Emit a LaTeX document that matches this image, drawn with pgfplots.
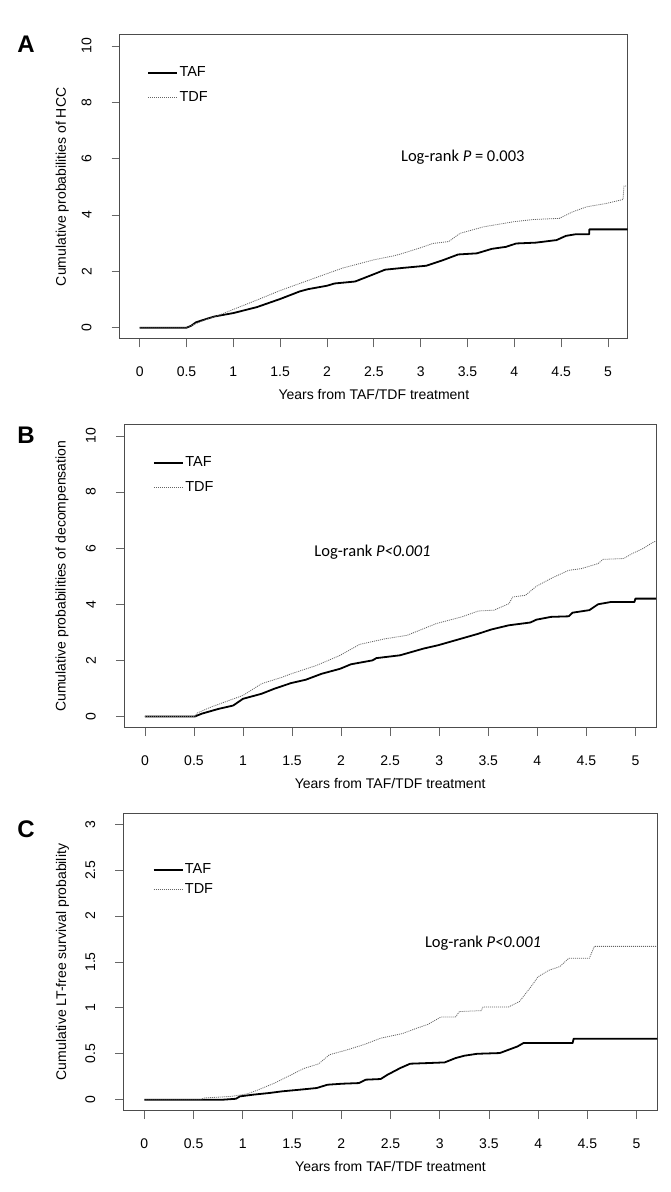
\documentclass[border=0pt]{standalone}
\usepackage{fontspec}
\setmainfont{Liberation Sans}
\newfontfamily\calibri{Carlito}
\usepackage{pgfplots}
\pgfplotsset{compat=1.18}

\newcommand\ticksize{\fontsize{14}{16}\selectfont}
\newcommand\labsize{\fontsize{14}{16}\selectfont}
\newcommand\legsize{\fontsize{14.5}{17}\selectfont}
\newcommand\pfont{\calibri\fontsize{16.5}{20}\selectfont}

\definecolor{tdfgray}{RGB}{100,100,100}

\pgfplotsset{
  rplot/.style={
    scale only axis,
    xmin=-0.21, xmax=5.21,
    xtick={0,0.5,1,1.5,2,2.5,3,3.5,4,4.5,5},
    xticklabels={0,0.5,1,1.5,2,2.5,3,3.5,4,4.5,5},
    tick align=outside,
    xtick pos=left, ytick pos=left,
    major tick length=8.5pt,
    tick style={draw=black!60, line width=0.8pt},
    axis line style={draw=black!70, line width=1pt},
    tick label style={font=\ticksize, inner sep=0pt},
    xticklabel style={anchor=north},
    yticklabel style={rotate=90, anchor=south},
    xticklabel shift=19.3pt,
    yticklabel shift=19.8pt,
    label style={font=\labsize},
    xlabel={Years from TAF/TDF treatment},
    xlabel style={at={([yshift=-55.5pt]axis description cs:0.5,0)}, anchor=center},
    legend style={draw=none, fill=none, font=\legsize, inner sep=0pt,
      nodes={inner sep=1.5pt}, anchor=west},
    legend cell align=left,
    legend image code/.code={\draw[#1] (0pt,0pt) -- (29pt,0pt);},
  },
  taf/.style={black, line width=1.8pt, line join=round},
  tdf/.style={tdfgray, line width=0.8pt, dash pattern=on 1pt off 1pt},
}

\begin{document}
\begin{tikzpicture}
\useasboundingbox (0,0) rectangle (671pt,1192pt);

% ---------------- Panel A ----------------
\begin{axis}[rplot,
  at={(120pt,853pt)}, anchor=south west,
  width=507.7pt, height=304.3pt,
  ymin=-0.4, ymax=10.4,
  ytick={0,2,4,6,8,10}, yticklabels={0,2,4,6,8,10},
  ylabel={Cumulative probabilities of HCC},
  ylabel style={at={([xshift=-57.7pt]axis description cs:0,0.5)}, anchor=center},
  legend style={at={(axis description cs:0.0532,0.834)}, row sep=10.6pt},
]
\addplot[taf] coordinates {
 (0,0) (0.5,0) (0.55,0.07) (0.6,0.19) (0.71,0.31) (0.8,0.40) (1.0,0.52)
 (1.25,0.73) (1.5,1.02) (1.71,1.29) (1.8,1.37) (2.0,1.49) (2.08,1.57)
 (2.3,1.64) (2.5,1.90) (2.62,2.06) (2.8,2.12) (3.06,2.20) (3.24,2.40)
 (3.40,2.60) (3.6,2.64) (3.76,2.80) (3.91,2.87) (4.02,2.99) (4.23,3.02)
 (4.45,3.11) (4.55,3.26) (4.66,3.32) (4.80,3.32) (4.80,3.49) (5.21,3.49)
};
\addlegendentry{TAF}
\addplot[tdf] coordinates {
 (0,0) (0.5,0) (0.55,0.08) (0.7,0.28) (0.85,0.45) (1.0,0.65) (1.25,0.98)
 (1.5,1.32) (1.75,1.62) (2.0,1.92) (2.17,2.12) (2.5,2.41) (2.71,2.55)
 (2.78,2.61) (3.0,2.84) (3.13,2.99) (3.3,3.06) (3.42,3.35) (3.67,3.58)
 (3.99,3.76) (4.2,3.84) (4.48,3.88) (4.62,4.11) (4.77,4.29) (4.98,4.41)
 (5.16,4.55) (5.17,5.03) (5.21,5.03)
};
\addlegendentry{TDF}
\node[font=\pfont] at (axis cs:3.45,6.06) {Log-rank \textit{P} = 0.003};
\end{axis}

% ---------------- Panel B ----------------
\begin{axis}[rplot,
  at={(124.3pt,464.3pt)}, anchor=south west,
  width=531.7pt, height=303pt,
  ymin=-0.4, ymax=10.4,
  ytick={0,2,4,6,8,10}, yticklabels={0,2,4,6,8,10},
  ylabel={Cumulative probabilities of decompensation},
  ylabel style={at={([xshift=-62.2pt]axis description cs:0,0.5)}, anchor=center},
  legend style={at={(axis description cs:0.0536,0.834)}, row sep=10pt},
]
\addplot[taf] coordinates {
 (0,0) (0.51,0) (0.58,0.10) (0.75,0.27) (0.90,0.39) (1.0,0.63) (1.19,0.81)
 (1.32,0.99) (1.49,1.19) (1.64,1.31) (1.80,1.52) (1.99,1.70) (2.10,1.86)
 (2.32,2.00) (2.36,2.08) (2.60,2.18) (2.84,2.42) (2.99,2.54) (3.19,2.74)
 (3.40,2.95) (3.53,3.10) (3.71,3.25) (3.93,3.35) (3.99,3.45) (4.14,3.55)
 (4.32,3.57) (4.36,3.70) (4.53,3.79) (4.62,4.00) (4.75,4.08) (4.99,4.08)
 (5.0,4.20) (5.21,4.20)
};
\addlegendentry{TAF}
\addplot[tdf] coordinates {
 (0,0) (0.51,0) (0.53,0.12) (0.67,0.33) (0.88,0.60) (1.0,0.75) (1.19,1.17)
 (1.40,1.40) (1.49,1.52) (1.75,1.82) (1.99,2.18) (2.19,2.57) (2.45,2.77)
 (2.67,2.89) (2.97,3.31) (3.23,3.55) (3.40,3.76) (3.56,3.79) (3.71,4.02)
 (3.75,4.26) (3.88,4.32) (3.99,4.64) (4.14,4.92) (4.32,5.21) (4.45,5.27)
 (4.62,5.45) (4.67,5.60) (4.88,5.63) (4.97,5.81) (5.08,5.99) (5.17,6.19)
 (5.21,6.25)
};
\addlegendentry{TDF}
\node[font=\pfont] at (axis cs:2.32,5.86) {Log-rank \textit{P<0.001}};
\end{axis}

% ---------------- Panel C ----------------
\begin{axis}[rplot,
  at={(123.7pt,81.3pt)}, anchor=south west,
  width=533.6pt, height=297.4pt,
  ymin=-0.12, ymax=3.12,
  ytick={0,0.5,1,1.5,2,2.5,3}, yticklabels={0,0.5,1,1.5,2,2.5,3},
  ylabel={Cumulative LT-free survival probability},
  ylabel style={at={([xshift=-61.1pt]axis description cs:0,0.5)}, anchor=center},
  legend style={at={(axis description cs:0.0538,0.778)}, row sep=4.9pt},
]
\addplot[taf] coordinates {
 (0,0) (0.80,0) (0.93,0.01) (0.97,0.036) (1.10,0.054) (1.27,0.073)
 (1.40,0.091) (1.58,0.109) (1.75,0.127) (1.86,0.163) (2.01,0.174)
 (2.18,0.181) (2.25,0.218) (2.40,0.225) (2.47,0.272) (2.60,0.345)
 (2.70,0.392) (2.88,0.399) (3.05,0.406) (3.16,0.453) (3.25,0.479)
 (3.38,0.50) (3.61,0.508) (3.70,0.544) (3.79,0.58) (3.85,0.617)
 (4.35,0.617) (4.36,0.664) (5.21,0.664)
};
\addlegendentry{TAF}
\addplot[tdf] coordinates {
 (0,0) (0.58,0) (0.60,0.018) (0.88,0.036) (1.04,0.062) (1.14,0.10)
 (1.32,0.18) (1.49,0.27) (1.62,0.34) (1.77,0.39) (1.88,0.49) (2.05,0.54)
 (2.23,0.60) (2.40,0.67) (2.62,0.72) (2.77,0.78) (2.88,0.82) (3.01,0.90)
 (3.16,0.90) (3.20,0.96) (3.42,0.97) (3.44,1.01) (3.70,1.01) (3.81,1.07)
 (3.92,1.22) (4.00,1.34) (4.11,1.41) (4.22,1.45) (4.31,1.54) (4.52,1.54)
 (4.57,1.67) (5.21,1.67)
};
\addlegendentry{TDF}
\node[font=\pfont] at (axis cs:3.44,1.705) {Log-rank \textit{P<0.001}};
\end{axis}

% panel letters
\node[font=\fontsize{24}{26}\selectfont\bfseries] at (26pt,1147.3pt) {A};
\node[font=\fontsize{24}{26}\selectfont\bfseries] at (26pt,756.7pt) {B};
\node[font=\fontsize{24}{26}\selectfont\bfseries] at (26pt,363.2pt) {C};
\end{tikzpicture}
\end{document}
